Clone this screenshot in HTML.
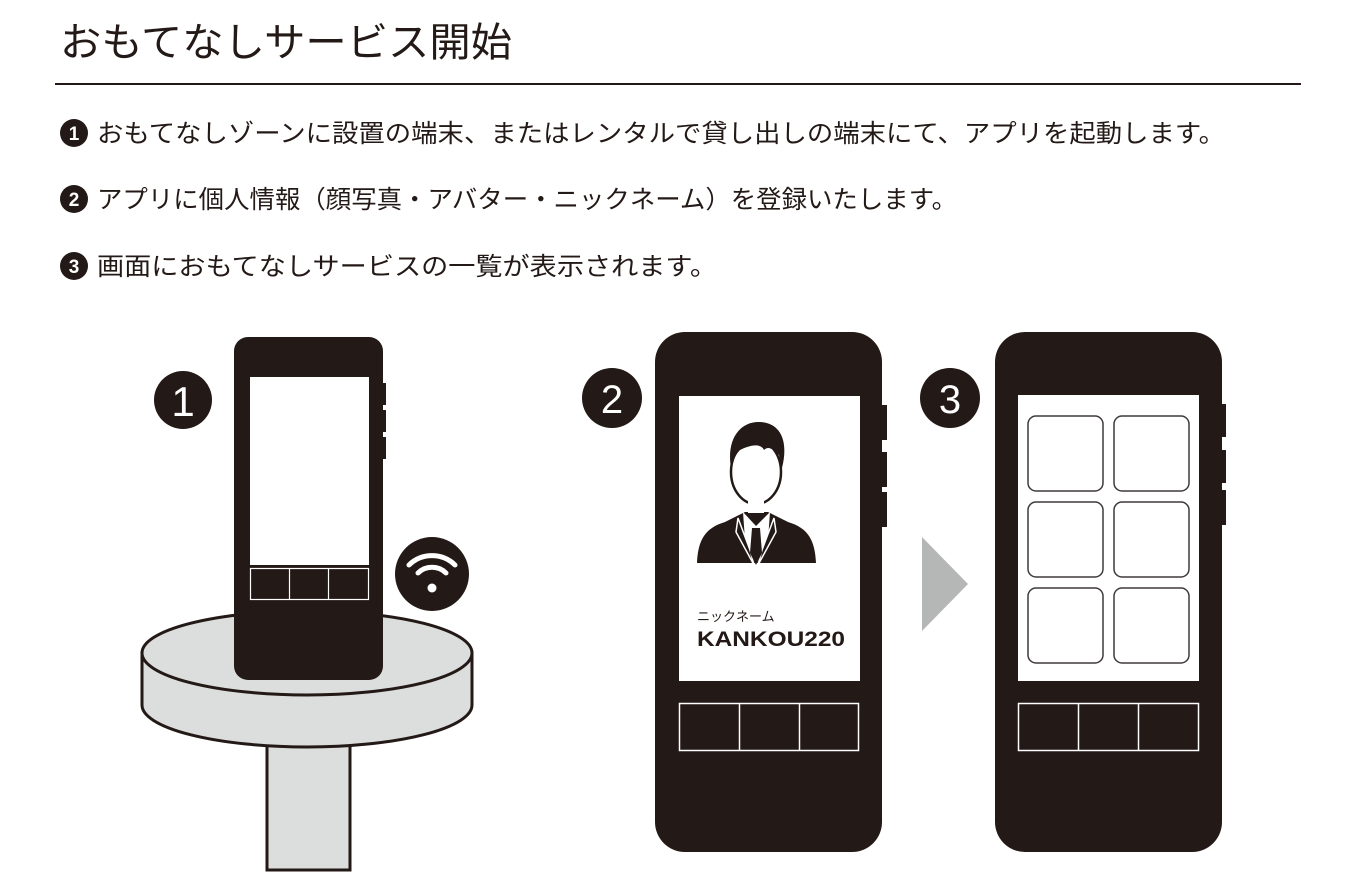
<!DOCTYPE html>
<html><head><meta charset="utf-8"><style>
html,body{margin:0;padding:0;background:#fff;}
svg{display:block;}
text{font-family:"Liberation Sans","Noto Sans CJK JP",sans-serif;fill:#231916;}
</style></head><body>
<svg width="1352" height="888" viewBox="0 0 1352 888" xmlns="http://www.w3.org/2000/svg">
<text x="60" y="56" font-size="40" textLength="452" lengthAdjust="spacingAndGlyphs">おもてなしサービス開始</text>
<rect x="55" y="83" width="1246" height="2" fill="#231916"/>

<g fill="#231916">
<circle cx="74" cy="133" r="14"/><circle cx="74" cy="199" r="14"/><circle cx="74" cy="266" r="14"/>
</g>
<text x="74" y="140" font-size="19" text-anchor="middle" style="fill:#fff" font-weight="bold">1</text>
<text x="74" y="206" font-size="19" text-anchor="middle" style="fill:#fff" font-weight="bold">2</text>
<text x="74" y="273" font-size="19" text-anchor="middle" style="fill:#fff" font-weight="bold">3</text>
<text x="97" y="142" font-size="25" textLength="1128" lengthAdjust="spacingAndGlyphs">おもてなしゾーンに設置の端末、またはレンタルで貸し出しの端末にて、アプリを起動します。</text>
<text x="97" y="208" font-size="25" textLength="860" lengthAdjust="spacingAndGlyphs">アプリに個人情報（顔写真・アバター・ニックネーム）を登録いたします。</text>
<text x="97" y="275" font-size="25" textLength="620" lengthAdjust="spacingAndGlyphs">画面におもてなしサービスの一覧が表示されます。</text>

<!-- Scene 1 -->
<rect x="267" y="735" width="83" height="135" fill="#dcdddd" stroke="#231916" stroke-width="3"/>
<path d="M142 653 L142 705 A165 42 0 0 0 472 705 L472 653 Z" fill="#dcdddd" stroke="#231916" stroke-width="3"/>
<ellipse cx="307" cy="653" rx="165" ry="42" fill="#dcdddd" stroke="#231916" stroke-width="3"/>
<rect x="234" y="337" width="149" height="343" rx="14" fill="#231916"/>
<rect x="380" y="383" width="6" height="22" fill="#231916"/>
<rect x="380" y="410" width="6" height="22" fill="#231916"/>
<rect x="380" y="437" width="6" height="22" fill="#231916"/>
<rect x="250" y="377" width="119" height="188" fill="#fff"/>
<rect x="250.5" y="568.5" width="118" height="31" fill="none" stroke="#fff" stroke-width="1.2"/>
<line x1="289.5" y1="568" x2="289.5" y2="600" stroke="#fff" stroke-width="1.2"/>
<line x1="328.5" y1="568" x2="328.5" y2="600" stroke="#fff" stroke-width="1.2"/>
<circle cx="183" cy="400" r="29" fill="#231916"/>
<text x="183" y="416" font-size="42" text-anchor="middle" style="fill:#fff">1</text>
<circle cx="432" cy="574" r="37" fill="#231916"/>
<g fill="none" stroke="#fff" stroke-width="5" stroke-linecap="round">
<path d="M409 565 A33 33 0 0 1 455 565"/>
<path d="M418 573 A20 20 0 0 1 446 573"/>
</g>
<circle cx="432" cy="588" r="4.5" fill="#fff"/>

<!-- Scene 2 -->
<circle cx="612" cy="398" r="30" fill="#231916"/>
<text x="612" y="413" font-size="40" text-anchor="middle" style="fill:#fff">2</text>
<rect x="655" y="332" width="227" height="520" rx="30" fill="#231916"/>
<rect x="879" y="405" width="8" height="35" fill="#231916"/>
<rect x="879" y="452" width="8" height="35" fill="#231916"/>
<rect x="879" y="492" width="8" height="35" fill="#231916"/>
<rect x="679" y="396" width="181" height="285" fill="#fff"/>
<!-- person -->
<path d="M697 563 C698 540 705 528 725 522 L745 512 L768 512 L788 522 C808 528 815 540 816 563 Z" fill="#231916"/>
<path d="M743 512 L756 526 L770 512 L768 540 L756 565 L745 540 Z" fill="#fff"/>
<path d="M738 518 L750 550 L754 565 L736 532 Z M774 518 L762 550 L758 565 L776 532 Z" fill="#231916" stroke="#fff" stroke-width="1.5"/>
<path d="M752 528 L760 528 L762 553 L756 565 L750 553 Z" fill="#231916"/>
<ellipse cx="756" cy="472" rx="25" ry="32" fill="#fff" stroke="#231916" stroke-width="2.5"/>
<rect x="748" y="496" width="16" height="17" fill="#fff"/>
<path d="M731 468 C726 438 741 421 760 422 C780 423 789 440 782 468 L779 455 C772 448 768 446 764 450 C760 442 748 446 740 450 C736 454 733 460 731 468 Z" fill="#231916"/>
<text x="697" y="621" font-size="13">ニックネーム</text>
<text x="697" y="646" font-size="21" font-weight="bold" textLength="148" lengthAdjust="spacingAndGlyphs">KANKOU220</text>
<rect x="679.5" y="703.5" width="179" height="47" fill="none" stroke="#fff" stroke-width="1.5"/>
<line x1="739.5" y1="703" x2="739.5" y2="751" stroke="#fff" stroke-width="1.5"/>
<line x1="799.5" y1="703" x2="799.5" y2="751" stroke="#fff" stroke-width="1.5"/>

<path d="M922 537 L968 584 L922 631 Z" fill="#b5b6b6"/>

<!-- Scene 3 -->
<circle cx="950" cy="398" r="30" fill="#231916"/>
<text x="950" y="413" font-size="40" text-anchor="middle" style="fill:#fff">3</text>
<rect x="995" y="332" width="227" height="520" rx="30" fill="#231916"/>
<rect x="1219" y="404" width="7" height="33" fill="#231916"/>
<rect x="1219" y="450" width="7" height="33" fill="#231916"/>
<rect x="1219" y="490" width="7" height="35" fill="#231916"/>
<rect x="1018" y="395" width="181" height="286" fill="#fff"/>
<g fill="none" stroke="#3e3a39" stroke-width="1.5">
<rect x="1028" y="416" width="75" height="75" rx="8"/>
<rect x="1114" y="416" width="75" height="75" rx="8"/>
<rect x="1028" y="502" width="75" height="75" rx="8"/>
<rect x="1114" y="502" width="75" height="75" rx="8"/>
<rect x="1028" y="588" width="75" height="75" rx="8"/>
<rect x="1114" y="588" width="75" height="75" rx="8"/>
</g>
<rect x="1018.5" y="703.5" width="180" height="47" fill="none" stroke="#fff" stroke-width="1.5"/>
<line x1="1078.5" y1="703" x2="1078.5" y2="751" stroke="#fff" stroke-width="1.5"/>
<line x1="1138.5" y1="703" x2="1138.5" y2="751" stroke="#fff" stroke-width="1.5"/>
</svg>
</body></html>
